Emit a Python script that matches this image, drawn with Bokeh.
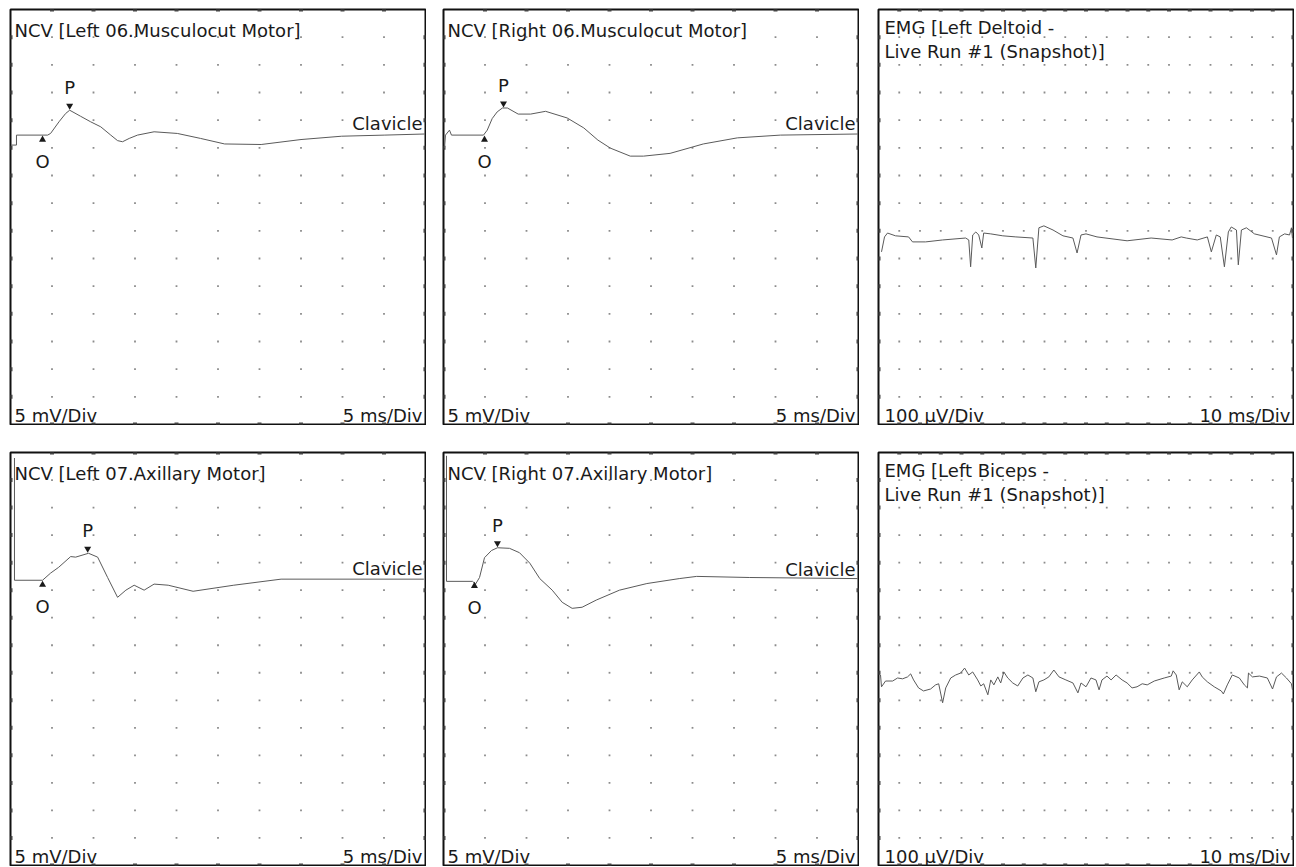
import numpy as np
from bokeh.plotting import figure
from bokeh.models import Range1d, Label
from bokeh.layouts import row, column
from bokeh.embed import file_html
from bokeh.resources import INLINE

# ---------------- data ----------------
# NCV traces: time (ms), amplitude (mV) relative to baseline
l06_t = [0.12, 0.72, 0.72, 4.47, 4.83, 5.84, 6.64, 7.13, 8.45, 9.66, 10.87, 12.08, 12.9, 13.5, 14.3,
         15.3, 17.3, 20.1, 22.9, 25.8, 30.2, 35.0, 39.9, 45.1, 49.9]
l06_v = [-1.8, -1.8, 0.0, 0.0, 0.3, 2.4, 3.9, 4.5, 3.4, 2.4, 1.5, 0.0, -1.0, -1.2, -0.6,
         0.0, 0.6, 0.3, -0.6, -1.6, -1.7, -0.8, -0.2, 0.0, 0.2]

r06_t = [0.12, 0.24, 0.72, 0.96, 4.82, 5.27, 5.87, 6.47, 7.1, 7.7, 9.0, 10.5, 12.3, 14.9, 16.9,
         18.6, 20.1, 22.5, 24.1, 27.3, 31.3, 35.4, 40.6, 49.9]
r06_v = [-2.35, 0.0, 0.9, 0.0, 0.0, 0.9, 3.0, 4.2, 4.9, 4.9, 3.8, 3.8, 4.3, 3.1, 1.3,
         -0.9, -2.35, -3.8, -3.8, -3.3, -1.6, -0.5, 0.0, 0.2]

l07_t = [0.48, 0.48, 3.86, 4.83, 5.8, 7.25, 7.85, 9.4, 10.5, 11.7, 12.9, 13.9, 14.9, 16.1, 17.3,
         19.0, 22.0, 26.9, 32.6, 49.8]
l07_v = [22.2, 0.0, 0.0, 1.3, 2.35, 4.3, 4.2, 4.9, 4.2, 0.5, -3.1, -1.8, -0.9, -1.8, -0.7,
         -0.9, -2.0, -0.9, 0.2, 0.2]

r07_t = [0.36, 0.36, 3.5, 3.86, 4.34, 4.94, 5.78, 6.5, 7.95, 9.16, 10.4, 11.6, 13.1, 14.3, 15.5,
         16.7, 18.4, 21.2, 24.5, 28.4, 30.5, 36.9, 49.9]
r07_v = [22.8, 0.0, 0.0, -0.5, 0.7, 4.3, 5.6, 6.1, 6.0, 5.2, 3.3, 0.5, -1.6, -3.8, -4.9,
         -4.7, -3.4, -1.6, -0.4, 0.5, 0.9, 0.7, 0.5]

# onset (ms), peak latency (ms), peak amplitude (mV)
l06_marks = [3.86, 7.13, 4.5]
r06_marks = [4.94, 7.23, 4.9]
l07_marks = [3.86, 9.3, 4.9]
r07_marks = [3.73, 6.5, 6.1]

# EMG traces: time (ms), amplitude (uV)
delt_t = [1.45, 2.9, 4.35, 8.2, 14.5, 16.4, 22.7, 30.9, 42.0, 43.5, 44.4, 45.4, 46.9, 48.3, 49.8,
          50.7, 54.1, 59.9, 66.2, 74.4, 75.8, 77.3, 79.7, 84.1, 88.9, 93.7, 95.7, 97.6, 100.0, 105.3,
          119.8, 131.4, 141.5, 145.9, 148.3, 153.6, 158.5, 160.4, 162.8, 164.7, 166.7, 168.6, 170.0,
          172.5, 173.4, 174.9, 177.3, 181.2, 189.4, 191.8, 193.2, 195.7, 198.1, 199.0, 199.5]
delt_v = [-54, 0, 14, 4, 0, -18, -18, -11, -4, -11, -108, 7, 18, 7, -40,
          14, 11, 4, 0, -4, -112, 33, 40, 25, 4, -4, -58, 7, 11, 0,
          -14, -4, -11, 0, -4, -11, 0, -54, 7, 0, -108, 18, 36,
          25, -101, 25, 33, 11, -4, -65, 0, 11, 7, 33, -4]

bic_t = [0.97, 1.45, 3.4, 6.8, 9.2, 11.6, 14.0, 15.5, 16.9, 19.3,
         21.7, 25.1, 27.5, 29.0, 30.9, 32.4, 34.8, 37.2, 39.6, 41.5,
         43.5, 45.4, 47.8, 49.3, 50.7, 52.7, 54.1, 55.6, 57.5, 58.9,
         60.4, 62.3, 64.7, 67.1, 69.6, 72.0, 74.4, 75.8, 77.3, 79.7,
         82.1, 84.5, 87.0, 90.3, 93.7, 96.1, 97.6, 100.0, 102.4, 104.8,
         106.3, 107.7, 110.1, 112.1, 114.5, 117.4, 119.8, 122.2, 124.6, 127.1,
         129.5, 132.9, 137.7, 141.1, 142.0, 143.5, 144.9, 146.4, 148.8, 151.2,
         154.6, 156.0, 158.5, 161.8, 165.2, 166.2, 168.1, 170.5, 173.9, 176.3,
         177.8, 178.3, 180.2, 183.6, 187.4, 189.9, 191.8, 194.2, 196.6, 199.0,
         199.5]
bic_v = [18, -25, -4, -4, 7, 4, 11, 22, 0, -29,
         -40, -33, -18, -14, -83, -29, 7, 18, 25, 43,
         18, 29, 0, -22, -14, -54, 0, -18, 11, -11,
         29, 7, -11, -22, 7, 18, 7, -43, -7, 0,
         11, 36, 11, 0, -11, -47, -11, -25, 7, 0,
         -36, 0, 14, 0, 18, 0, -11, -29, -25, -14,
         -18, -4, 7, 14, 33, 18, -36, -7, -25, 0,
         29, 11, -7, -25, -40, -51, -18, 18, 7, -18,
         -29, 25, 11, 14, 7, -33, 11, 25, 7, -14,
         -36]

# ---------------- style ----------------
FW = 415
FONT = "DejaVu Sans"
FS = "18px"
INK = "#1a1a1a"
TRACE = "#5a5a5a"
DOT = "#8c8c8c"


def add_text(p, x, y, text, align="left"):
    p.add_layout(Label(x=x, y=y, text=text, text_font=FONT, text_font_size=FS,
                       text_color=INK, text_align=align, text_baseline="middle"))


def make_panel(t, v, xdiv, ydiv, nx, ny, base_div, title_lines, title_mid, left_lab, right_lab,
               inset, fh, mb_left, mb_top, site=None, marks=None):
    x0, x1 = 0.0, xdiv * nx
    ytop = base_div * ydiv
    ybot = ytop - ny * ydiv
    p = figure(frame_width=FW, frame_height=fh,
               min_border_left=mb_left, min_border_top=mb_top,
               min_border_right=1, min_border_bottom=1,
               x_range=Range1d(x0, x1), y_range=Range1d(ybot, ytop),
               x_axis_type=None, y_axis_type=None, toolbar_location=None,
               output_backend="svg", background_fill_color="white",
               border_fill_color="white")
    p.outline_line_color = "#111111"
    p.outline_line_width = 2
    p.outline_line_alpha = 1.0
    sx = FW / (x1 - x0)
    sy = fh / (ytop - ybot)

    # dotted grid
    gxs = x0 + xdiv * np.arange(1, nx)
    gys = ytop - ydiv * np.arange(1, ny)
    gx, gy = np.meshgrid(gxs, gys)
    p.scatter(gx.ravel(), gy.ravel(), marker="square", size=1.8,
              fill_color=DOT, line_color=None)
    # edge ticks
    ex = np.concatenate([gxs, gxs, np.full(len(gys), x0), np.full(len(gys), x1)])
    ey = np.concatenate([np.full(len(gxs), ytop), np.full(len(gxs), ybot), gys, gys])
    p.scatter(ex, ey, marker="square", size=4, fill_color="#444444", line_color=None)

    # trace
    p.line(t, v, line_color=TRACE, line_width=1)

    # texts
    for line, off in zip(title_lines, title_mid):
        add_text(p, x0 + inset / sx, ytop - off / sy, line)
    add_text(p, x0 + inset / sx, ybot + 9 / sy, left_lab)
    add_text(p, x1 - 3 / sx, ybot + 9 / sy, right_lab, align="right")

    if site:
        add_text(p, x1 - 3 / sx, 12 / sy, site, align="right")

    if marks:
        onset, pk_t, pk_v = marks
        p.scatter([pk_t], [pk_v + 4.5 / sy], marker="inverted_triangle", size=7,
                  fill_color=INK, line_color=None)
        add_text(p, pk_t, pk_v + 22.5 / sy, "P", align="center")
        p.scatter([onset], [-4.5 / sy], marker="triangle", size=7,
                  fill_color=INK, line_color=None)
        add_text(p, onset, -26.5 / sy, "O", align="center")
    return p


H1, H2 = 415, 413
p1 = make_panel(l06_t, l06_v, 5, 5, 10, 15, 4.54, ["NCV [Left 06.Musculocut Motor]"], [21.3],
                "5 mV/Div", "5 ms/Div", 4, H1, 10, 9, site="Clavicle", marks=l06_marks)
p2 = make_panel(r06_t, r06_v, 5, 5, 10, 15, 4.54, ["NCV [Right 06.Musculocut Motor]"], [21.3],
                "5 mV/Div", "5 ms/Div", 4, H1, 1, 9, site="Clavicle", marks=r06_marks)
p3 = make_panel(delt_t, delt_v, 10, 100, 20, 15, 8.22,
                ["EMG [Left Deltoid -", "Live Run #1 (Snapshot)]"], [17.5, 41.5],
                "100 µV/Div", "10 ms/Div", 6, H1, 3, 9)
p4 = make_panel(l07_t, l07_v, 5, 5, 10, 15, 4.64, ["NCV [Left 07.Axillary Motor]"], [21.3],
                "5 mV/Div", "5 ms/Div", 4, H2, 10, 1, site="Clavicle", marks=l07_marks)
p5 = make_panel(r07_t, r07_v, 5, 5, 10, 15, 4.68, ["NCV [Right 07.Axillary Motor]"], [21.3],
                "5 mV/Div", "5 ms/Div", 4, H2, 1, 1, site="Clavicle", marks=r07_marks)
p6 = make_panel(bic_t, bic_v, 10, 100, 20, 15, 8.26,
                ["EMG [Left Biceps -", "Live Run #1 (Snapshot)]"], [17.5, 41.5],
                "100 µV/Div", "10 ms/Div", 6, H2, 3, 1)

layout = column(row(p1, p2, p3, spacing=16), row(p4, p5, p6, spacing=16), spacing=26)

open("out.html", "w").write(file_html(layout, INLINE))
